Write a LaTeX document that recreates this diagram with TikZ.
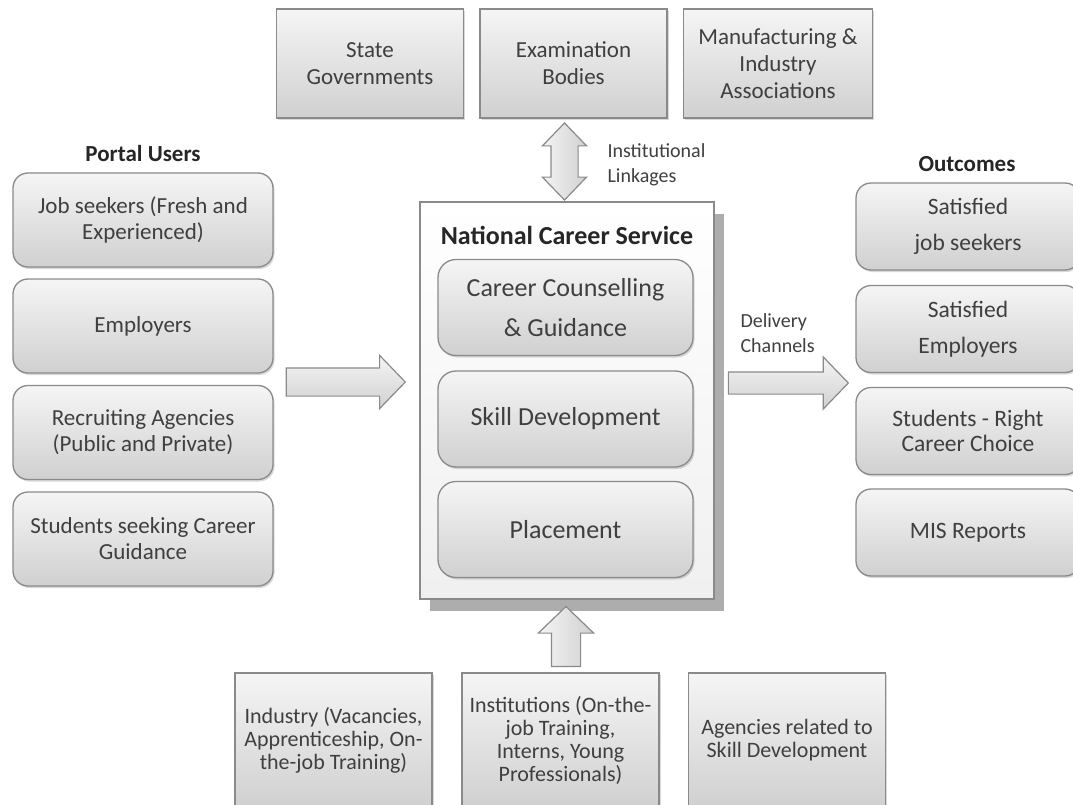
\documentclass[tikz,border=0pt]{standalone}
\usepackage{fontspec}
\setmainfont{Carlito}
\usetikzlibrary{shapes.arrows,shadows}
\definecolor{boxline}{HTML}{8A8A8A}
\definecolor{boxtext}{HTML}{3F3F3F}
\definecolor{boxtop}{HTML}{F5F5F5}
\definecolor{boxbot}{HTML}{D0D0D0}
\tikzset{
  shade box/.style={draw=boxline,line width=1.3pt,top color=boxtop,bottom color=boxbot,
    text=boxtext,align=center,inner sep=2pt,
    drop shadow={shadow xshift=1.5pt,shadow yshift=-2pt,opacity=.3}},
  orgbox/.style={shade box,minimum width=187pt,minimum height=109pt,font=\fontsize{23}{27}\selectfont},
  userbox/.style={shade box,rounded corners=15pt,minimum width=260pt,minimum height=94pt,font=\fontsize{23}{26}\selectfont},
  outbox/.style={shade box,rounded corners=15pt,minimum width=224pt,minimum height=87pt,font=\fontsize{23.5}{25}\selectfont},
  servbox/.style={shade box,rounded corners=18pt,minimum width=255pt,minimum height=96pt,font=\fontsize{26}{30}\selectfont},
  feedbox/.style={shade box,minimum width=197pt,minimum height=134pt,font=\fontsize{22}{23}\selectfont},
  heading/.style={font=\fontsize{23}{27}\selectfont\bfseries,text=black!85},
  note/.style={font=\fontsize{20}{25}\selectfont,text=boxtext,align=left,anchor=west},
  flowarrow/.style={single arrow,draw=boxline,line width=1.2pt,top color=boxtop,bottom color=boxbot,
    single arrow tip angle=92},
}
\begin{document}
\begin{tikzpicture}[x=1pt,y=-1pt]
\useasboundingbox (0,0) rectangle (1073,805);
\clip (0,0) rectangle (1073,805);
% bodies linked to the service
\node[orgbox] (stgov) at (370,63.5) {State\\Governments};
\node[orgbox] (exam) at (573.5,63.5) {Examination\\Bodies};
\node[orgbox,minimum width=189pt] (manuf) at (778,63.5) {Manufacturing \&\\Industry\\Associations};
\node[double arrow,draw=boxline,line width=1.2pt,left color=boxtop,right color=boxbot,inner sep=13pt,
  shape border rotate=90,minimum height=77pt,double arrow head extend=8.5pt,
  double arrow tip angle=88] (link) at (564.5,161.5) {};
\node[note] (linklabel) at (604,164.5) {Institutional\\Linkages};
% portal users
\node[heading] (users) at (143,154) {Portal Users};
\node[userbox] (seekers) at (143,220) {Job seekers (Fresh and\\Experienced)};
\node[userbox] (employers) at (143,326) {Employers};
\node[userbox] (agencies) at (143,432.5) {Recruiting Agencies\\(Public and Private)};
\node[userbox] (students) at (143,539) {Students seeking Career\\Guidance};
\node[flowarrow,inner sep=13.5pt,minimum height=119pt,single arrow head extend=12.5pt] (inflow) at (339,382) {};
% national career service
\node[draw=boxline,line width=1.3pt,top color=white,bottom color=black!6,minimum width=294pt,minimum height=397pt,
  drop shadow={shadow xshift=10pt,shadow yshift=-12pt,fill=black!40,opacity=.8}] (ncs) at (567,400.5) {};
\node[heading,font=\fontsize{26}{30}\selectfont\bfseries] (ncstitle) at (567,235) {National Career Service};
\node[servbox] (counsel) at (565.5,307.5) {Career Counselling\\[10pt]\& Guidance};
\node[servbox] (skill) at (565.5,419) {Skill Development};
\node[servbox] (place) at (565.5,529.5) {Placement};
% outcomes
\node[flowarrow,inner sep=10.5pt,minimum height=120pt,single arrow head extend=15pt] (outflow) at (783,383) {};
\node[note] (outlabel) at (737,333.5) {Delivery\\Channels};
\node[heading] (outcomes) at (967,164) {Outcomes};
\node[outbox] (satseek) at (968,226.5) {Satisfied\\[11pt]job seekers};
\node[outbox] (satemp) at (968,329) {Satisfied\\[11pt]Employers};
\node[outbox] (choice) at (968,431) {Students - Right\\Career Choice};
\node[outbox] (mis) at (968,532.5) {MIS Reports};
% feeders from below
\node[flowarrow,inner sep=14pt,shape border rotate=90,minimum height=60pt,single arrow head extend=13pt,
  left color=boxtop,right color=boxbot] (feed) at (566,643.5) {};
\node[feedbox] (industry) at (333.5,740) {Industry (Vacancies,\\Apprenticeship, On-\\the-job Training)};
\node[feedbox] (institutes) at (560.5,740) {Institutions (On-the-\\job Training,\\Interns, Young\\Professionals)};
\node[feedbox] (skillag) at (787,740) {Agencies related to\\Skill Development};
\end{tikzpicture}
\end{document}
